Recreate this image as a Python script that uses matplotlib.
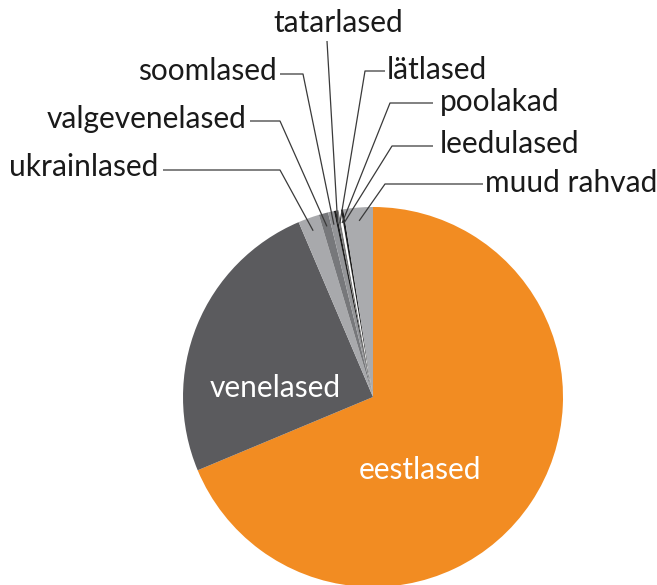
import matplotlib
matplotlib.use("Agg")
import matplotlib.pyplot as plt
import numpy as np

labels = ["eestlased", "venelased", "ukrainlased", "valgevenelased", "soomlased",
          "tatarlased", "lätlased", "poolakad", "leedulased", "muud rahvad"]
values = [68.7, 24.9, 1.8, 0.8, 0.5, 0.2, 0.2, 0.2, 0.2, 2.5]
colors = ["#F28C22", "#5B5B5E", "#A8A9AC", "#77787B", "#949598",
          "#1E1E1E", "#7A7A7A", "#FFFFFF", "#1E1E1E", "#AAABAE"]

W, H = 657, 585
CX, CY, R = 373, 397, 190

def px(x, y):
    return (x - CX) / R, (CY - y) / R

fig = plt.figure(figsize=(W / 100, H / 100), dpi=100)
ax = fig.add_axes([0, 0, 1, 1])

wedges, _ = ax.pie(values, colors=colors, startangle=90, counterclock=False,
                   radius=1.0, center=(0, 0), frame=True)
ax.set_xlim(px(0, 0)[0], px(W, 0)[0])
ax.set_ylim(px(0, H)[1], px(0, 0)[1])
ax.set_aspect("auto")
ax.axis("off")

font = "Lato"
fs = 21.5

# inner labels
ax.text(*px(275, 388), "venelased", color="white", fontsize=fs, family=font,
        ha="center", va="center")
ax.text(*px(420, 470), "eestlased", color="white", fontsize=fs, family=font,
        ha="center", va="center")

# outer labels: outer end of leader, knee, text anchor, alignment
outer = {
    "ukrainlased": ((163, 170), (280, 170), (158, 167), "right"),
    "valgevenelased": ((250, 121), (280, 121), (247, 119), "right"),
    "soomlased": ((280, 74), (303, 74), (277, 71), "right"),
    "tatarlased": ((327, 41), (327, 41), (338, 23), "center"),
    "lätlased": ((385, 71), (365, 71), (387, 70), "left"),
    "poolakad": ((433, 103), (390, 103), (440, 102), "left"),
    "leedulased": ((433, 146), (392, 146), (440, 144), "left"),
    "muud rahvad": ((483, 184), (385, 184), (485, 183), "left"),
}

for w, lab in zip(wedges, labels):
    if lab not in outer:
        continue
    p_out, p_knee, p_text, ha = outer[lab]
    ang = np.deg2rad((w.theta1 + w.theta2) / 2)
    rr = 0.93
    ex, ey = rr * np.cos(ang), rr * np.sin(ang)
    x0, y0 = px(*p_out)
    x1, y1 = px(*p_knee)
    ax.plot([x0, x1, ex], [y0, y1, ey], color="#3A3A3A", lw=0.9,
            solid_capstyle="butt", zorder=3)
    tx, ty = px(*p_text)
    ax.text(tx, ty, lab, color="#1A1A1A", fontsize=fs, family=font,
            ha=ha, va="center")

fig.savefig("out.png", dpi=100)
